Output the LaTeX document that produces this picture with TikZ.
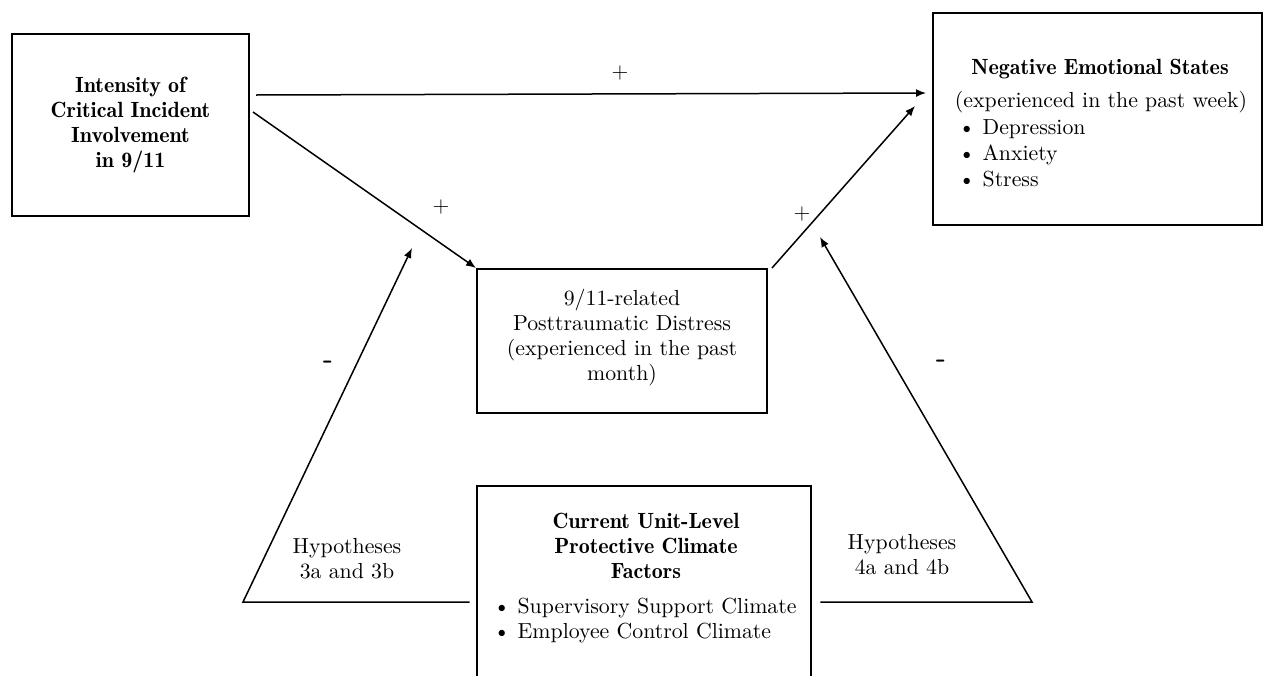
\documentclass[tikz,border=0pt]{standalone}
\usepackage{fontspec}
\newfontfamily\demifont{lmromandemi10-regular.otf}
\usetikzlibrary{arrows.meta}
\begin{document}
\begin{tikzpicture}[x=0.5pt,y=-0.5pt,
  box/.style={draw, line width=1pt, inner sep=0pt},
  arr/.style={-{Latex[length=5pt,width=4pt]}, line width=0.75pt},
  lbl/.style={font=\fontsize{10.9}{12.5}\selectfont, inner sep=0pt},
  bold/.style={font=\demifont\fontsize{11}{12.5}\selectfont, inner sep=0pt},
  sgn/.style={font=\sffamily\fontsize{11}{12}\selectfont, inner sep=0pt},
  msgn/.style={font=\sffamily\bfseries\fontsize{14}{14}\selectfont, inner sep=0pt}]
\fill[white] (0,0) rectangle (1264,675);
\useasboundingbox (0,0) rectangle (1264,675);

% boxes
\node[box, minimum width=118.5pt, minimum height=91pt] (L) at (130.5,125) {};
\node[bold, align=center] (Lt) at (130.5,125) {Intensity of\\Critical Incident\\Involvement\\in 9/11};

\node[box, minimum width=164.5pt, minimum height=106pt] (R) at (1097.5,119) {};
\node[bold] (Rt) at (1100,69) {Negative Emotional States};
\node[lbl] (Rs) at (1101,102) {(experienced in the past week)};
\node[lbl, anchor=base west] (R1) at (958,134) {\textbullet\ Depression};
\node[lbl, anchor=base west] (R2) at (958,160) {\textbullet\ Anxiety};
\node[lbl, anchor=base west] (R3) at (958,186) {\textbullet\ Stress};

\node[box, minimum width=145pt, minimum height=72pt] (M) at (622,341) {};
\node[lbl, align=center] (Mt) at (622,338) {9/11-related\\Posttraumatic Distress\\(experienced in the past\\month)};

\node[inner sep=0pt, minimum width=167pt, minimum height=116pt] (B) at (644,602) {};
\coordinate (bot) at (0,680);
\draw[line width=1pt] (B.west |- bot) -- (B.north west) -- (B.north east) -- (B.east |- bot);
\node[bold, align=center] (Bt) at (646,546) {Current Unit-Level\\Protective Climate\\Factors};
\node[lbl, anchor=base west] (B1) at (493,613) {\textbullet\ Supervisory Support Climate};
\node[lbl, anchor=base west] (B2) at (493,638) {\textbullet\ Employee Control Climate};

\node[lbl, align=center] (H1) at (347,559) {Hypotheses\\3a and 3b};
\node[lbl, align=center] (H2) at (902,555) {Hypotheses\\4a and 4b};

% connectors
\draw[arr] ([xshift=3pt,yshift=15pt]L.east) -- ([xshift=-3pt,yshift=13pt]R.west);
\draw[arr] ([xshift=1.5pt,yshift=6.5pt]L.east) -- (M.north west);
\draw[arr] ([xshift=2pt]M.north east) -- ([xshift=-8.5pt,yshift=6.5pt]R.west);

\coordinate (t1) at (412,248);
\coordinate (t2) at (820,237);
\coordinate (c1) at (243,602);
\coordinate (c2) at (1032,602);
\draw[arr] ([xshift=-3.5pt]B.west) -- (c1) -- (t1);
\draw[arr] ([xshift=4.5pt]B.east) -- (c2) -- (t2);

% signs
\node[sgn] (p1) at (620,73) {+};
\node[sgn] (p2) at (441,207) {+};
\node[sgn] (p3) at (802,214) {+};
\node[msgn] (m1) at (328,365) {-};
\node[msgn] (m2) at (941,364) {-};
\end{tikzpicture}
\end{document}
